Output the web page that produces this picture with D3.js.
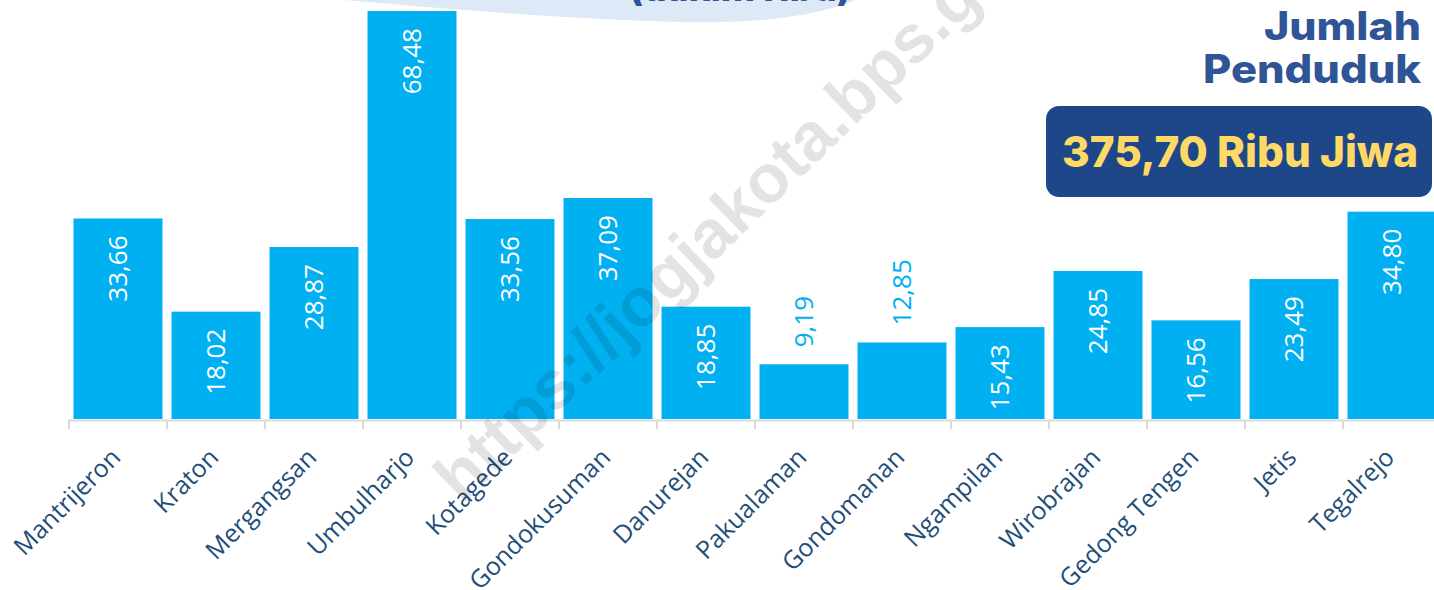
<!DOCTYPE html>
<html>
<head>
<meta charset="utf-8">
<script src="https://cdn.jsdelivr.net/npm/d3@7"></script>
<style>
  html, body { margin: 0; padding: 0; background: #ffffff; }
  svg { display: block; }
</style>
</head>
<body>
<svg id="chart" width="1434" height="590"></svg>
<script>
const categories = ["Mantrijeron", "Kraton", "Mergangsan", "Umbulharjo", "Kotagede", "Gondokusuman",
  "Danurejan", "Pakualaman", "Gondomanan", "Ngampilan", "Wirobrajan", "Gedong Tengen", "Jetis", "Tegalrejo"];
const values = [33.66, 18.02, 28.87, 68.48, 33.56, 37.09, 18.85, 9.19, 12.85, 15.43, 24.85, 16.56, 23.49, 34.80];
const subtitleText = "(dalam ribu)";
const headingLines = ["Jumlah", "Penduduk"];
const totalText = "375,70 Ribu Jiwa";
const watermarkText = "https://jogjakota.bps.go.id";

const W = 1434, H = 590;
const svg = d3.select("#chart");

const x = d3.scaleBand().domain(categories).range([69, 1441]).paddingInner(0.092).paddingOuter(0.046);
const y = d3.scaleLinear().domain([0, 70]).range([419, 2]);
const fmt = v => d3.format(".2f")(v).replace(".", ",");

// top cloud shape with subtitle
svg.append("path")
  .attr("d", "M 345,0 C 450,9 560,19 680,22 C 770,24 820,14 856,0 Z")
  .attr("fill", "#dde9f6");
svg.append("text")
  .attr("x", 740).attr("y", 1)
  .attr("text-anchor", "middle")
  .attr("font-family", "Inter, sans-serif")
  .attr("font-weight", 800)
  .attr("font-size", 36)
  .attr("fill", "#2f5597")
  .attr("textLength", 222)
  .attr("lengthAdjust", "spacingAndGlyphs")
  .text(subtitleText);

// bars
svg.append("g").selectAll("rect")
  .data(values)
  .join("rect")
  .attr("x", (d, i) => x(categories[i]))
  .attr("y", d => y(d))
  .attr("width", x.bandwidth())
  .attr("height", d => y(0) - y(d))
  .attr("fill", "#00b0f0");

// axis line + ticks at band boundaries
const axisG = svg.append("g");
axisG.append("line")
  .attr("x1", x.range()[0]).attr("x2", x.range()[1])
  .attr("y1", 420.5).attr("y2", 420.5)
  .attr("stroke", "#d9d9d9").attr("stroke-width", 2);
const boundaries = categories.map(c => x(c) - x.step() * x.paddingInner() / 2).concat([x.range()[1]]);
axisG.selectAll("line.tick")
  .data(boundaries)
  .join("line")
  .attr("class", "tick")
  .attr("x1", d => d).attr("x2", d => d)
  .attr("y1", 420).attr("y2", 429)
  .attr("stroke", "#d9d9d9").attr("stroke-width", 2);

// category labels
svg.append("g").selectAll("text")
  .data(categories)
  .join("text")
  .attr("transform", d => `translate(${x(d) + x.bandwidth() / 2 + 4},459) rotate(-45)`)
  .attr("text-anchor", "end")
  .attr("font-family", "'Open Sans', sans-serif")
  .attr("font-size", 25)
  .attr("fill", "#1f4e79")
  .text(d => d);

// value labels
const vl = svg.append("g");
values.forEach((v, i) => {
  const cx = x(categories[i]) + x.bandwidth() / 2;
  const t = vl.append("text")
    .attr("font-family", "'Open Sans', sans-serif")
    .attr("font-size", 26)
    .attr("dy", "0.35em")
    .text(fmt(v));
  const len = t.node().getComputedTextLength();
  const barH = y(0) - y(v);
  if (barH < len + 22) {
    t.attr("transform", `translate(${cx},${y(v) - 17}) rotate(-90)`)
      .attr("text-anchor", "start").attr("fill", "#00b0f0");
  } else {
    t.attr("transform", `translate(${cx},${y(v) + 17}) rotate(-90)`)
      .attr("text-anchor", "end").attr("fill", "#ffffff");
  }
});

// heading
const headingWidths = [157, 218];
svg.append("g").selectAll("text")
  .data(headingLines)
  .join("text")
  .attr("x", 1421)
  .attr("y", (d, i) => 40 + i * 43)
  .attr("text-anchor", "end")
  .attr("font-family", "Inter, sans-serif")
  .attr("font-weight", 800)
  .attr("font-size", 39)
  .attr("fill", "#2f5597")
  .attr("textLength", (d, i) => headingWidths[i])
  .attr("lengthAdjust", "spacingAndGlyphs")
  .text(d => d);

// total box
svg.append("rect")
  .attr("x", 1046).attr("y", 106)
  .attr("width", 386).attr("height", 91)
  .attr("rx", 13).attr("ry", 13)
  .attr("fill", "#1d4788");
svg.append("text")
  .attr("x", 1240).attr("y", 167)
  .attr("text-anchor", "middle")
  .attr("font-family", "Inter, sans-serif")
  .attr("font-weight", 800)
  .attr("font-size", 43)
  .attr("fill", "#ffd966")
  .attr("textLength", 356)
  .attr("lengthAdjust", "spacingAndGlyphs")
  .text(totalText);

// watermark
svg.append("text")
  .attr("transform", "translate(462,505) rotate(-44)")
  .attr("font-family", "'Liberation Sans', Arial, sans-serif")
  .attr("font-weight", 700)
  .attr("font-size", 68)
  .attr("fill", "#000000")
  .attr("fill-opacity", 0.11)
  .text(watermarkText);
</script>
</body>
</html>
